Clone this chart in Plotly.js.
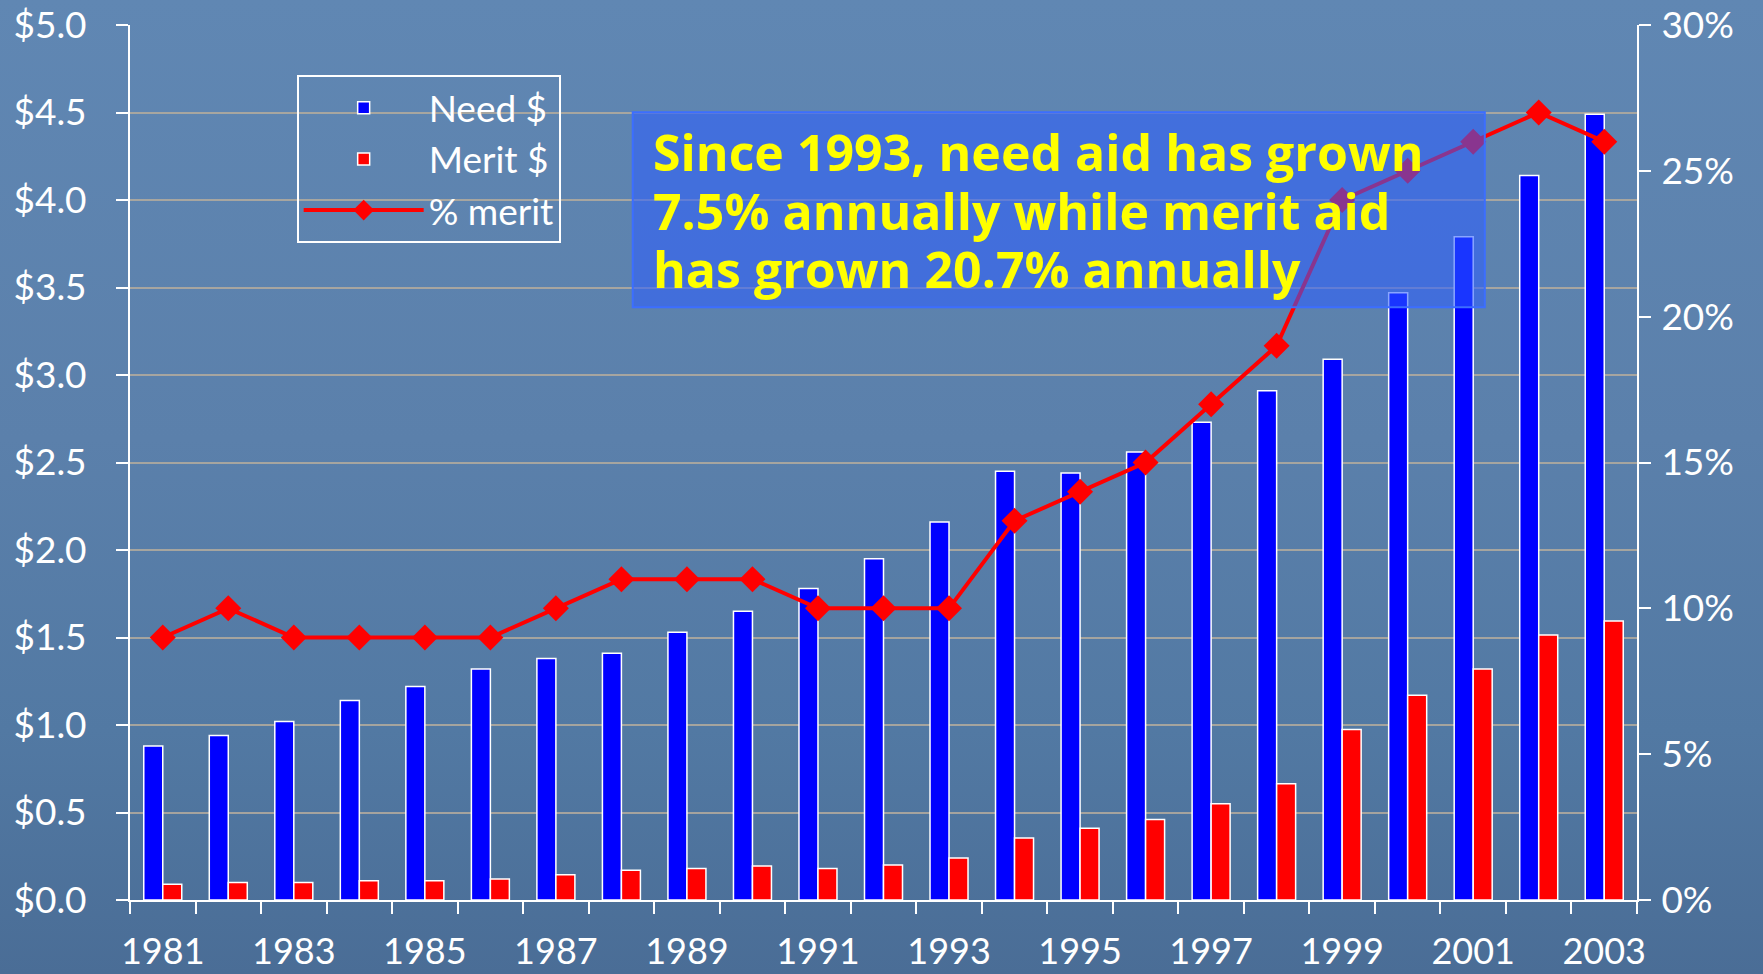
<!DOCTYPE html>
<html><head><meta charset="utf-8">
<script src="https://cdn.plot.ly/plotly-3.0.1.min.js"></script>
<style>
html,body{margin:0;padding:0;width:1763px;height:974px;overflow:hidden;
background:linear-gradient(180deg,#6087b3 0%,#5b80ab 45%,#5279a3 75%,#4a6d96 100%);}
#chart{width:1763px;height:974px;}
</style>
</head><body><div id="chart"></div>
<script>
const years = ['1981','1982','1983','1984','1985','1986','1987','1988','1989','1990','1991','1992',
  '1993','1994','1995','1996','1997','1998','1999','2000','2001','2002','2003'];
const needAid = [0.88,0.94,1.02,1.14,1.22,1.32,1.38,1.41,1.53,1.65,1.78,1.95,
  2.16,2.45,2.44,2.56,2.73,2.91,3.09,3.47,3.79,4.14,4.49];
const meritAid = [0.09,0.10,0.10,0.11,0.11,0.12,0.145,0.17,0.18,0.195,0.18,0.20,
  0.24,0.355,0.41,0.46,0.55,0.665,0.975,1.17,1.32,1.515,1.595];
const pctMerit = [9,10,9,9,9,9,10,11,11,11,10,10,10,13,14,15,17,19,24,25,26,27,26];
const leftTickVals = [0,0.5,1,1.5,2,2.5,3,3.5,4,4.5,5];
const leftTickText = ['$0.0','$0.5','$1.0','$1.5','$2.0','$2.5','$3.0','$3.5','$4.0','$4.5','$5.0'];
const rightTickVals = [0,5,10,15,20,25,30];
const rightTickText = ['0%','5%','10%','15%','20%','25%','30%'];
const xTickText = years.map((y,i)=> i%2===0 ? y : '');
const seriesNames = ['Need $','Merit $','% merit'];
const noteLines = ['Since 1993, need aid has grown','7.5% annually while merit aid','has grown 20.7% annually'];

const white = '#ffffff';
const tickFont = {family:'Lato, "Open Sans", sans-serif', size:37, color:white};
const xTickFont = {family:'Lato, "Open Sans", sans-serif', size:36, color:white};
const nCat = years.length;

const traces = [
  {type:'bar', name:seriesNames[0], x:years, y:needAid, legendgroup:'a',
   marker:{color:'#0000ff', line:{color:white, width:1.5}}},
  {type:'bar', name:seriesNames[1], x:years, y:meritAid, legendgroup:'b',
   marker:{color:'#ff0000', line:{color:white, width:1.5}}},
  {type:'scatter', mode:'lines+markers', name:seriesNames[2], x:years, y:pctMerit, yaxis:'y2', legendgroup:'c',
   line:{color:'#ff0000', width:4}, marker:{symbol:'diamond', size:20, color:'#ff0000'}}
];

const noteText = noteLines.map(t => '<span style="font-size:50px">' + t + '</span>').join('<br>');

const layout = {
  width:1763, height:974,
  margin:{l:130, r:126, t:25, b:74, autoexpand:false},
  paper_bgcolor:'rgba(0,0,0,0)', plot_bgcolor:'rgba(0,0,0,0)',
  barmode:'group', bargap:0.42, bargroupgap:0,
  showlegend:true,
  legend:{x:0.1106, y:0.9425, xanchor:'left', yanchor:'top', bgcolor:'rgba(0,0,0,0)',
    bordercolor:white, borderwidth:2, font:{family:'Lato, sans-serif', size:37, color:white},
    itemwidth:120, tracegroupgap:12, traceorder:'normal'},
  xaxis:{type:'category', range:[-0.5, nCat-0.5], tickson:'boundaries', tickvals:years, ticktext:xTickText,
    ticks:'outside', ticklen:12, tickwidth:2, tickcolor:white,
    showline:true, linecolor:white, linewidth:2, showgrid:false, zeroline:false,
    tickfont:xTickFont, ticklabelstandoff:19, tickangle:0},
  xaxis2:{overlaying:'x', anchor:'y', type:'linear', range:[-0.5, nCat-0.5], tick0:-0.5, dtick:1,
    ticks:'inside', ticklen:12, tickwidth:2, tickcolor:white, showticklabels:false,
    showgrid:false, zeroline:false, showline:false},
  yaxis:{range:[0,5], tickvals:leftTickVals, ticktext:leftTickText,
    ticks:'outside', ticklen:12, tickwidth:2, tickcolor:white,
    showline:true, linecolor:white, linewidth:2,
    showgrid:true, gridcolor:'rgba(180,172,158,0.85)', gridwidth:2, zeroline:false,
    tickfont:tickFont, ticklabelstandoff:22},
  yaxis2:{overlaying:'y', side:'right', range:[0,30], tickvals:rightTickVals, ticktext:rightTickText,
    ticks:'outside', ticklen:12, tickwidth:2, tickcolor:white,
    showline:true, linecolor:white, linewidth:2, showgrid:false, zeroline:false,
    tickfont:tickFont, ticklabelstandoff:3},
  yaxis3:{overlaying:'y', anchor:'x', side:'left', range:[0,5], tickvals:leftTickVals,
    ticks:'inside', ticklen:12, tickwidth:2, tickcolor:white, showticklabels:false,
    showgrid:false, zeroline:false, showline:false},
  yaxis4:{overlaying:'y', anchor:'x', side:'right', range:[0,30], tickvals:rightTickVals,
    ticks:'inside', ticklen:12, tickwidth:2, tickcolor:white, showticklabels:false,
    showgrid:false, zeroline:false, showline:false},
  shapes:[{type:'rect', xref:'paper', yref:'paper', layer:'above',
    x0:0.3336, x1:0.899, y0:0.6773, y1:0.9002,
    fillcolor:'rgba(45,95,255,0.56)', line:{color:'rgba(60,110,255,1)', width:2}}],
  annotations:[{xref:'paper', yref:'paper', x:0.3455, y:0.788, xanchor:'left', yanchor:'middle',
    align:'left', text:noteText, showarrow:false,
    font:{family:'"Open Sans", sans-serif', size:45, color:'#ffff00', weight:'bold'}}]
};

Plotly.newPlot('chart', traces, layout, {displayModeBar:false, staticPlot:true});
</script>
</body></html>
